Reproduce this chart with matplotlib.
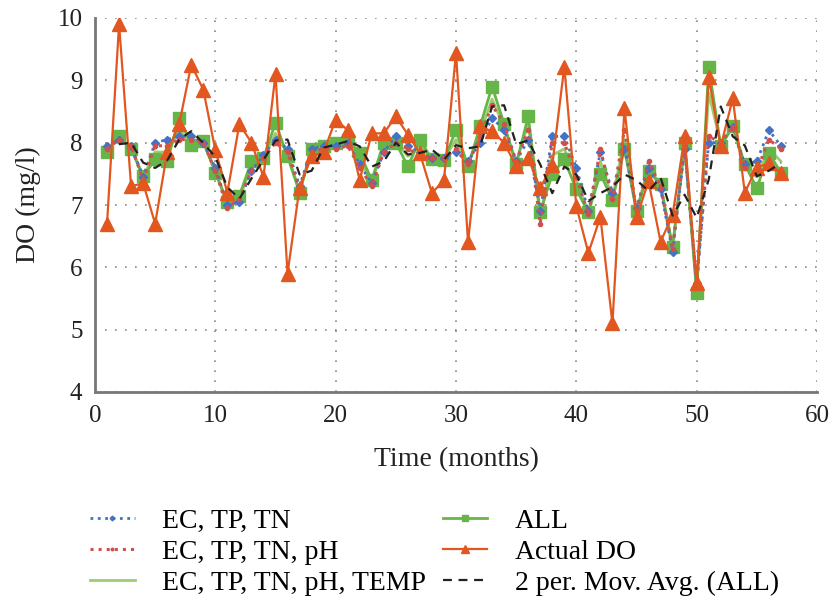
import numpy as np
import pandas as pd
import matplotlib
matplotlib.use('Agg')
import matplotlib.pyplot as plt

# months 1..57
months = list(range(1, 58))

actual_do = [6.70, 9.90, 7.30, 7.35, 6.70, 7.85, 8.30, 9.25, 8.85, 7.88,
             7.20, 8.30, 8.00, 7.45, 9.10, 5.90, 7.28, 7.78, 7.85, 8.37,
             8.20, 7.40, 8.15, 8.15, 8.42, 8.13, 7.83, 7.19, 7.40, 9.44,
             6.40, 8.26, 8.18, 8.00, 7.62, 7.75, 7.27, 7.64, 9.22, 6.98,
             6.23, 6.81, 5.10, 8.55, 6.80, 7.38, 6.41, 6.84, 8.10, 5.75,
             9.05, 7.94, 8.71, 7.20, 7.60, 7.67, 7.51]

all_vars = [7.85, 8.10, 7.90, 7.46, 7.73, 7.70, 8.40, 7.97, 8.02, 7.52,
            7.05, 7.15, 7.70, 7.75, 8.32, 7.78, 7.20, 7.90, 7.94, 8.00,
            8.05, 7.83, 7.40, 8.00, 8.00, 7.62, 8.05, 7.73, 7.72, 8.20,
            7.62, 8.26, 8.90, 8.30, 7.65, 8.42, 6.88, 7.50, 7.73, 7.25,
            6.88, 7.50, 7.08, 7.90, 6.90, 7.55, 7.33, 6.33, 8.00, 5.59,
            9.22, 7.94, 8.26, 7.65, 7.27, 7.83, 7.52]

ec_tp_tn = [7.95, 8.05, 7.95, 7.45, 8.00, 8.05, 8.10, 8.10, 8.00, 7.60,
            7.00, 7.05, 7.55, 7.80, 8.05, 7.90, 7.30, 7.90, 7.95, 7.95,
            8.00, 7.65, 7.35, 7.85, 8.10, 7.95, 7.85, 7.75, 7.75, 7.85,
            7.70, 8.00, 8.40, 8.20, 7.70, 8.05, 6.90, 8.10, 8.10, 7.60,
            6.90, 7.85, 7.20, 7.90, 6.95, 7.60, 7.25, 6.25, 7.90, 5.75,
            8.00, 8.00, 8.25, 7.65, 7.70, 8.20, 7.95]

ec_tp_tn_ph = [7.90, 8.05, 7.95, 7.40, 7.95, 7.95, 8.05, 8.05, 8.00, 7.55,
               6.95, 7.10, 7.55, 7.75, 8.00, 7.85, 7.25, 7.85, 7.90, 7.90,
               7.95, 7.60, 7.30, 7.85, 8.00, 7.90, 7.80, 7.75, 7.75, 7.90,
               7.65, 8.10, 8.60, 8.30, 7.70, 8.20, 6.70, 8.00, 8.00, 7.45,
               6.85, 7.90, 7.10, 8.20, 6.90, 7.70, 7.30, 6.30, 7.95, 5.75,
               8.10, 8.00, 8.25, 7.60, 7.55, 8.05, 7.90]

ec_tp_tn_ph_temp = [7.90, 8.05, 7.92, 7.45, 7.85, 7.85, 8.20, 8.00, 8.00, 7.55,
                    7.00, 7.10, 7.62, 7.75, 8.15, 7.82, 7.22, 7.88, 7.92, 7.96,
                    8.00, 7.72, 7.38, 7.92, 8.02, 7.78, 7.95, 7.74, 7.73, 8.05,
                    7.65, 8.15, 8.70, 8.25, 7.68, 8.30, 6.80, 7.80, 7.90, 7.40,
                    6.88, 7.70, 7.10, 8.05, 6.90, 7.62, 7.30, 6.30, 7.95, 5.65,
                    8.80, 7.98, 8.25, 7.62, 7.45, 7.90, 7.70]

# 2 period moving average of ALL (Excel trendline style)
mov_avg = pd.Series(all_vars).rolling(2).mean()

plt.rcParams['font.family'] = ['Liberation Serif', 'DejaVu Serif']

fig = plt.figure(figsize=(8.31, 6.0), dpi=100)
ax = fig.add_axes([95 / 831, 1 - 392 / 600, 722 / 831, 374 / 600])

ax.plot(months, ec_tp_tn, color='#4472C4', linestyle=':', linewidth=2,
        marker='D', markersize=4, label='EC, TP, TN', zorder=3)
ax.plot(months, ec_tp_tn_ph, color='#D0504D', linestyle=':', linewidth=2.2,
        marker='o', markersize=3, label='EC, TP, TN, pH', zorder=4)
ax.plot(months, ec_tp_tn_ph_temp, color='#9DCC6F', linestyle='-', linewidth=2,
        label='EC, TP, TN, pH, TEMP', zorder=2)
ax.plot(months, all_vars, color='#66B548', linestyle='-', linewidth=2,
        marker='s', markersize=8, label='ALL', zorder=2.5)
ax.plot(months, actual_do, color='#E2561F', linestyle='-', linewidth=1.6,
        marker='^', markersize=10, label='Actual DO', zorder=5)
ax.plot(months, mov_avg, color='#222222', linestyle='--', linewidth=1.6,
        dashes=(4, 3), label='2 per. Mov. Avg. (ALL)', zorder=6)

ax.set_xlim(0, 60)
ax.set_ylim(4, 10)
ax.set_xticks(range(0, 61, 10))
ax.set_yticks(range(4, 11))
ax.grid(True, color='#888888', linestyle=(0, (1, 5)), linewidth=1.2)
ax.set_axisbelow(True)

for side in ['top', 'right']:
    ax.spines[side].set_visible(False)
for side in ['left', 'bottom']:
    ax.spines[side].set_color('#777777')
    ax.spines[side].set_linewidth(2)

ax.tick_params(axis='both', length=0, labelsize=18, colors='#222222', pad=9)
ax.set_xlabel('Time (months)', fontsize=20, color='#222222', labelpad=15)
ax.set_ylabel('DO (mg/l)', fontsize=20, color='#222222', labelpad=12)

fig.legend(loc='upper left', bbox_to_anchor=(79 / 831, 1 - 497 / 600), ncol=2,
           frameon=False, fontsize=20, handlelength=1.6, handletextpad=1.0,
           columnspacing=0.6, labelspacing=0.2, borderaxespad=0,
           markerscale=0.6)

fig.savefig('out.png', dpi=100)
